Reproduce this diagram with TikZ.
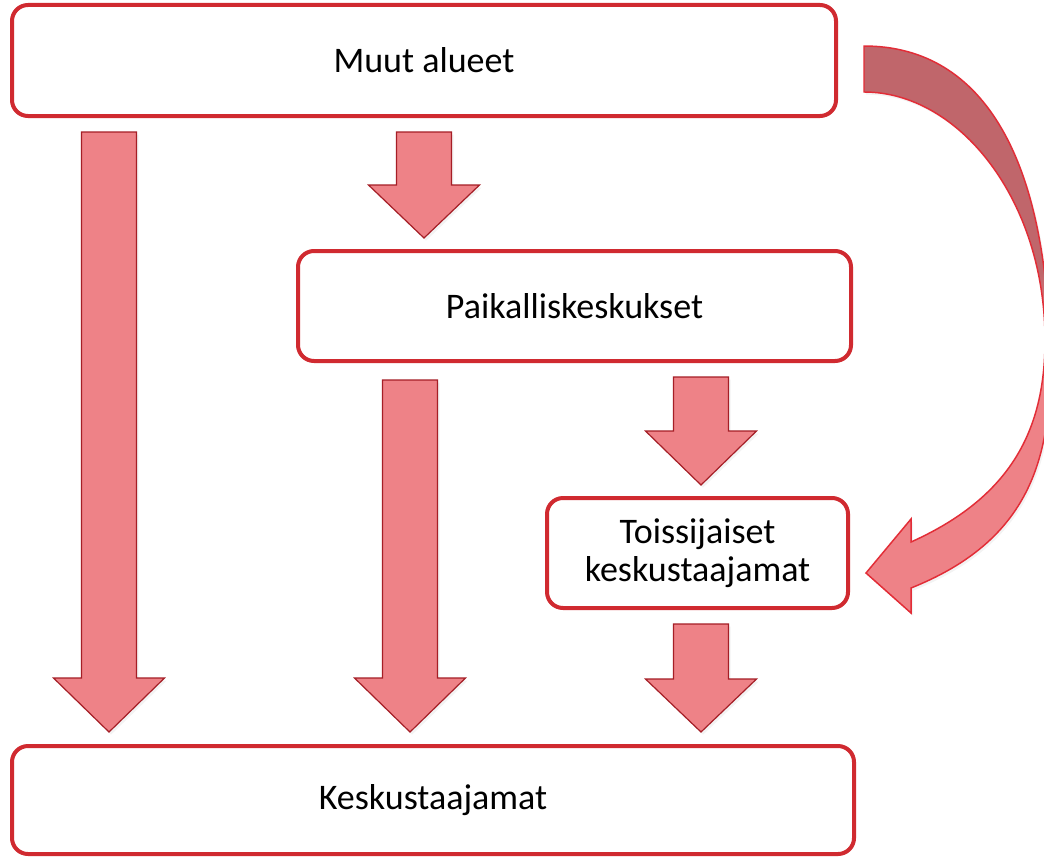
\documentclass[tikz,border=0pt]{standalone}
\usepackage{fontspec}
\setmainfont{Carlito}
\usetikzlibrary{shadows}
\definecolor{boxred}{RGB}{208,42,48}
\definecolor{arrowfill}{RGB}{238,130,135}
\definecolor{arrowline}{RGB}{165,30,38}
\definecolor{curvedark}{RGB}{192,102,107}
\definecolor{curveline}{RGB}{226,45,55}
\pgfdeclareverticalshading{curvshade}{100bp}{color(0bp)=(arrowfill); color(49bp)=(arrowfill); color(55bp)=(curvedark); color(100bp)=(curvedark)}
\tikzset{
  box/.style={draw=boxred, line width=3pt, rounded corners=12pt, fill=white,
    align=center, inner sep=0pt, font=\fontsize{27}{28.5}\selectfont},
  softshadow/.style={drop shadow={opacity=0.09, shadow xshift=1.5pt, shadow yshift=-2pt}},
  blockarrow/.style={fill=arrowfill, draw=arrowline, line width=0.9pt, line join=miter, softshadow},
  curvearrow/.style={draw=curveline, line width=1.1pt, line join=miter, shading=curvshade, softshadow}
}
\newcommand\blockarr[4]{\path[blockarrow] (#1-27.5,#2) -- (#1+27.5,#2) -- (#1+27.5,#3) -- (#1+55.5,#3) -- (#1,#4) -- (#1-55.5,#3) -- (#1-27.5,#3) -- cycle;}
\begin{document}
\begin{tikzpicture}[x=0.75pt,y=-0.75pt]
\useasboundingbox[fill=white] (0,0) rectangle (1044,856);
% boxes
\node[box, minimum width=824*0.75pt, minimum height=111*0.75pt] (muut) at (424,60.5) {Muut alueet};
\node[box, minimum width=553*0.75pt, minimum height=110*0.75pt] (paik) at (574.5,306) {Paikalliskeskukset};
\node[box, minimum width=301*0.75pt, minimum height=110*0.75pt] (tois) at (697.5,553) {Toissijaiset\\keskustaajamat};
\node[box, minimum width=842*0.75pt, minimum height=108*0.75pt] (kesk) at (433,800) {Keskustaajamat};
% block arrows
\blockarr{424}{132}{185}{238}
\blockarr{109}{132}{678}{732}
\blockarr{410}{380}{678}{732}
\blockarr{701}{377}{431}{485}
\blockarr{701}{624}{679}{732}
% curved arrow
\path[curvearrow]
  (864,46) .. controls (984,46) and (1050,160) .. (1050,370)
  .. controls (1050,470) and (1021,544) .. (911,588)
  -- (911,613) -- (866,573) -- (911,519) -- (911,542)
  .. controls (1011,497) and (1045,430) .. (1045,340)
  .. controls (1045,200) and (959,92) .. (864,92)
  -- cycle;
\end{tikzpicture}
\end{document}
